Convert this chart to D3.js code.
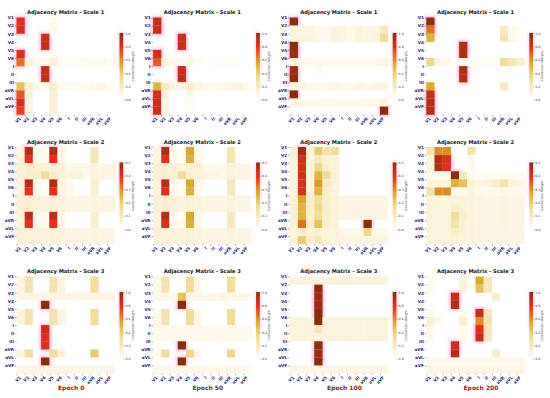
<!DOCTYPE html>
<html>
<head>
<meta charset="utf-8">
<script src="https://cdn.jsdelivr.net/npm/d3@7"></script>
<style>
  body { margin: 0; background: #fff; }
  text { font-family: "DejaVu Sans", sans-serif; }
</style>
</head>
<body>
<div id="chart"></div>
<script>
const leads = ["V1", "V2", "V3", "V4", "V5", "V6", "I", "II", "III", "aVR", "aVL", "aVF"]
const scaleNames = ["Scale 1", "Scale 2", "Scale 3"]
const epochs = ["Epoch 0", "Epoch 50", "Epoch 100", "Epoch 200"]
const vmax = [1.0, 0.5, 1.0]
const cbTicks = [
  [0, 0.2, 0.4, 0.6, 0.8, 1.0],
  [0, 0.1, 0.2, 0.3, 0.4, 0.5],
  [0, 0.2, 0.4, 0.6, 0.8, 1.0]
]

// scale 1
const s1e0 = [
  [0.8,0,0,0,0.05,0,0,0,0,0,0,0],
  [0.82,0,0,0,0.05,0,0,0,0,0,0,0],
  [0,0,0,0.85,0,0,0,0,0,0,0,0],
  [0,0,0,0.85,0,0,0,0,0,0,0,0],
  [0.8,0,0,0,0.04,0,0,0,0,0,0,0],
  [0.65,0.1,0.03,0.03,0.12,0.03,0.02,0.02,0.03,0.05,0.06,0.02],
  [0,0,0,0.85,0,0,0,0,0,0,0,0],
  [0,0,0,0.85,0,0,0,0,0,0,0,0],
  [0.45,0.12,0.04,0.04,0.15,0.04,0.03,0.03,0.04,0.07,0.08,0.03],
  [0.7,0.1,0,0,0.12,0,0,0,0,0,0,0],
  [0.82,0.08,0,0,0.12,0,0,0,0,0,0,0],
  [0.75,0.08,0,0,0.12,0,0,0,0,0,0,0]
]
const s1e50 = [
  [0.85,0,0,0,0,0,0,0,0,0,0,0],
  [0.85,0,0,0,0,0,0,0,0,0,0,0],
  [0,0,0,0.85,0,0,0,0,0,0,0,0],
  [0,0,0,0.85,0,0,0,0,0,0,0,0],
  [0.82,0,0,0,0,0,0,0,0,0,0,0],
  [0.7,0.1,0.04,0.02,0.06,0.02,0,0.02,0.02,0.02,0.02,0],
  [0,0,0,0.85,0,0,0,0,0,0,0,0],
  [0,0,0,0.85,0,0,0,0,0,0,0,0],
  [0.5,0.18,0.08,0.08,0.15,0.08,0.06,0.06,0.06,0.08,0.1,0.06],
  [0.82,0.1,0,0,0.04,0,0,0,0,0,0,0],
  [0.85,0.05,0,0,0.02,0,0,0,0,0,0,0],
  [0.85,0.05,0,0,0.02,0,0,0,0,0,0,0]
]
const s1e100 = [
  [1.0,0,0,0,0,0,0,0,0,0,0,0],
  [0.1,0.08,0.08,0.06,0.05,0.1,0.08,0.05,0.1,0.08,0.08,0.2],
  [0.08,0.1,0.1,0.06,0.05,0.1,0.08,0.05,0.1,0.08,0.1,0.3],
  [1.0,0,0,0,0,0,0,0,0,0,0,0],
  [0.95,0,0,0,0,0,0,0,0,0,0,0],
  [0.08,0.06,0.06,0.05,0.05,0.06,0.05,0.05,0.06,0.05,0.06,0.08],
  [0.95,0,0,0.04,0,0,0,0,0,0,0,0],
  [1.0,0,0,0,0,0,0,0,0,0,0,0],
  [0.1,0.08,0.06,0.06,0.06,0.08,0.06,0.06,0.08,0.06,0.08,0.1],
  [1.0,0,0,0,0,0,0,0,0,0,0,0],
  [0.08,0.06,0.06,0.06,0.06,0.06,0.06,0.06,0.06,0.06,0.06,0.08],
  [0,0,0,0,0,0,0,0,0,0,0,1.0]
]
const s1e200 = [
  [1.0,0,0,0,0,0,0,0,0,0,0,0],
  [0.65,0,0,0,0,0,0,0,0,0.2,0.06,0],
  [0.5,0,0,0,0,0,0,0,0,0.22,0.06,0.02],
  [0,0,0,0,0.9,0,0,0,0,0,0,0],
  [0,0,0,0,0.9,0,0,0,0,0,0,0],
  [0.35,0.08,0.06,0.02,0.02,0.02,0.02,0.02,0.02,0.3,0.22,0.15],
  [0,0,0,0,0.9,0,0,0,0,0,0,0],
  [0,0,0,0,0.9,0,0,0,0,0,0,0],
  [0.55,0,0,0,0,0,0,0,0,0.2,0,0],
  [0.85,0,0,0,0,0,0,0,0,0,0,0],
  [0.9,0,0,0,0,0,0,0,0,0,0,0],
  [0.9,0,0,0,0,0,0,0,0,0,0,0]
]

// scale 2
const s2e0 = [
  [0.05,0.45,0.025,0.015,0.45,0.04,0,0,0,0.1,0,0],
  [0.05,0.39,0.025,0.015,0.39,0.04,0,0,0,0.11,0,0],
  [0.06,0.075,0.06,0.05,0.06,0.06,0.03,0.03,0.03,0.05,0.04,0.04],
  [0.06,0.075,0.07,0.15,0.075,0.06,0.05,0.05,0.03,0.05,0.04,0.04],
  [0.05,0.45,0.025,0.015,0.45,0.04,0.025,0,0,0.075,0,0],
  [0.05,0.39,0.025,0.015,0.39,0.04,0.025,0,0,0.075,0,0],
  [0.06,0.07,0.06,0.05,0.06,0.05,0.04,0.04,0.04,0.05,0.04,0.04],
  [0.06,0.07,0.06,0.05,0.06,0.05,0.04,0.04,0.04,0.05,0.04,0.04],
  [0.05,0.44,0.025,0.015,0.44,0.04,0,0,0,0.075,0,0],
  [0.05,0.39,0.025,0.015,0.39,0.04,0,0,0,0.075,0,0],
  [0.06,0.06,0.05,0.05,0.06,0.05,0.04,0.04,0.04,0.05,0.04,0.04],
  [0.06,0.06,0.05,0.05,0.06,0.05,0.04,0.04,0.04,0.05,0.04,0.04]
]
const s2e50 = [
  [0.05,0.46,0.025,0.01,0.275,0.03,0,0,0,0.11,0,0],
  [0.05,0.4,0.025,0.01,0.26,0.03,0,0,0,0.11,0,0],
  [0.06,0.075,0.06,0.05,0.06,0.06,0.03,0.03,0.03,0.05,0.04,0.04],
  [0.06,0.075,0.07,0.15,0.07,0.06,0.05,0.04,0.03,0.05,0.04,0.04],
  [0.05,0.45,0.025,0.01,0.275,0.03,0,0,0,0.1,0,0],
  [0.05,0.4,0.025,0.01,0.26,0.03,0,0,0,0.1,0,0],
  [0.06,0.07,0.06,0.05,0.06,0.05,0.04,0.04,0.04,0.05,0.04,0.04],
  [0.06,0.07,0.06,0.05,0.06,0.05,0.04,0.04,0.04,0.05,0.04,0.04],
  [0.05,0.45,0.025,0.01,0.275,0.03,0,0,0,0.1,0,0],
  [0.05,0.4,0.025,0.01,0.26,0.03,0,0,0,0.1,0,0],
  [0.06,0.06,0.05,0.05,0.06,0.05,0.04,0.04,0.04,0.05,0.04,0.04],
  [0.06,0.06,0.05,0.05,0.06,0.05,0.04,0.04,0.04,0.05,0.04,0.04]
]
const s2e100 = [
  [0.06,0.475,0.06,0.2,0.125,0.15,0,0,0,0,0,0],
  [0.05,0.41,0.05,0.1,0.06,0.05,0,0,0,0,0,0],
  [0.05,0.41,0.05,0.175,0.075,0.05,0,0,0,0,0,0],
  [0.05,0.41,0.05,0.25,0.15,0.06,0,0,0,0,0,0],
  [0.05,0.4,0.05,0.29,0.09,0.05,0,0,0,0,0,0],
  [0.05,0.4,0.05,0.25,0.075,0.05,0,0,0,0,0,0],
  [0.06,0.275,0.075,0.15,0.075,0.06,0.04,0.04,0.04,0.04,0.04,0.04],
  [0.06,0.25,0.075,0.175,0.075,0.06,0.04,0.04,0.04,0.04,0.04,0.04],
  [0.06,0.25,0.075,0.15,0.075,0.06,0.04,0.04,0.04,0.04,0.04,0.04],
  [0.06,0.325,0.075,0.225,0.075,0.06,0,0,0,0.5,0,0],
  [0.05,0.075,0.05,0.06,0.05,0.05,0.03,0.03,0.03,0.175,0.03,0.03],
  [0.06,0.2,0.075,0.1,0.06,0.05,0.04,0.04,0.04,0.04,0.04,0.04]
]
const s2e200 = [
  [0.125,0.3,0.3,0,0,0.125,0,0,0,0,0,0],
  [0.05,0.46,0.4,0,0,0.025,0,0,0,0,0,0],
  [0.05,0.45,0.4,0,0,0.025,0,0,0,0,0,0],
  [0.025,0.025,0.025,0.5,0.1,0.025,0.015,0.015,0.015,0.015,0.015,0.015],
  [0.05,0.05,0.05,0.25,0.225,0.05,0.04,0.05,0.075,0.125,0.05,0.04],
  [0.125,0.3,0.3,0.025,0.025,0.05,0.025,0.025,0.025,0.025,0.025,0.025],
  [0.05,0.05,0.05,0.06,0.06,0.05,0.05,0.04,0.04,0.05,0.04,0.04],
  [0.05,0.05,0.05,0.075,0.06,0.05,0.04,0.04,0.04,0.05,0.04,0.04],
  [0.05,0.05,0.05,0.15,0.075,0.05,0.04,0.04,0.04,0.06,0.04,0.04],
  [0.05,0.05,0.05,0.125,0.06,0.05,0.04,0.04,0.04,0.05,0.04,0.04],
  [0.05,0.05,0.05,0.075,0.06,0.05,0.04,0.04,0.04,0.04,0.04,0.04],
  [0.05,0.05,0.05,0.06,0.05,0.05,0.04,0.04,0.04,0.04,0.04,0.04]
]

// scale 3
const s3e0 = [
  [0.08,0.25,0,0,0.25,0.08,0,0,0,0.3,0,0],
  [0.08,0.25,0,0,0.25,0.08,0,0,0,0.3,0,0],
  [0.08,0.08,0.08,0.08,0.08,0.08,0.08,0.08,0.08,0.08,0.08,0.08],
  [0,0,0,1.0,0,0,0,0,0,0,0,0],
  [0.08,0.25,0,0,0.25,0.08,0,0,0,0.3,0,0],
  [0.08,0.25,0,0,0.25,0.08,0,0,0,0.3,0,0],
  [0,0,0,0.85,0,0,0,0,0,0,0,0],
  [0,0,0,0.8,0,0,0,0,0,0,0,0],
  [0,0,0,0.8,0,0,0,0,0,0,0,0],
  [0.08,0.3,0,0,0.3,0.1,0,0,0,0.4,0,0],
  [0,0,0,1.0,0,0,0,0,0,0,0,0],
  [0.08,0.08,0.08,0.08,0.08,0.08,0.08,0.08,0.08,0.08,0.08,0.08]
]
const s3e50 = [
  [0.06,0.25,0,0,0.3,0.06,0,0,0,0.3,0,0],
  [0.06,0.25,0,0,0.3,0.06,0,0,0,0.3,0,0],
  [0.06,0.06,0.06,0.45,0.06,0.06,0.06,0.06,0.08,0.06,0.06,0.06],
  [0,0,0,1.0,0,0,0,0,0,0,0,0],
  [0.06,0.25,0,0,0.3,0.06,0,0,0,0.3,0,0],
  [0.06,0.25,0,0,0.3,0.06,0,0,0,0.3,0,0],
  [0.05,0.05,0.05,0.05,0.05,0.05,0.05,0.05,0.05,0.05,0.05,0.05],
  [0.05,0.05,0.05,0.05,0.05,0.05,0.05,0.05,0.05,0.05,0.05,0.05],
  [0,0,0,1.0,0,0,0,0,0,0,0,0],
  [0.06,0.3,0,0,0.35,0.06,0,0,0,0.35,0,0],
  [0,0,0,1.0,0,0,0,0,0,0,0,0],
  [0.06,0.06,0.06,0.06,0.06,0.06,0.06,0.06,0.06,0.06,0.06,0.06]
]
const s3e100 = [
  [0.1,0.1,0.1,0.1,0.1,0.1,0.1,0.1,0.1,0.1,0.1,0.1],
  [0,0,0,1.0,0,0,0,0,0,0,0,0],
  [0,0,0,0.95,0,0,0,0,0,0,0,0],
  [0,0,0,0.95,0,0,0,0,0,0,0,0],
  [0,0,0,1.0,0,0,0,0,0,0,0,0],
  [0.1,0.1,0.1,1.0,0.1,0.1,0.1,0.1,0.1,0.1,0.1,0.1],
  [0.1,0.1,0.1,0.2,0.1,0.1,0.1,0.1,0.1,0.1,0.1,0.1],
  [0.1,0.1,0.1,0.1,0.1,0.1,0.1,0.1,0.1,0.1,0.1,0.1],
  [0,0,0,1.0,0,0,0,0,0,0,0,0],
  [0,0,0,0.95,0,0,0,0,0,0,0,0],
  [0,0,0,1.0,0,0,0,0,0,0,0,0],
  [0.08,0.08,0.08,0.08,0.08,0.08,0.08,0.08,0.08,0.08,0.08,0.08]
]
const s3e200 = [
  [0.05,0,0,0,0.1,0,0.55,0.2,0,0,0,0],
  [0.05,0,0,0,0.1,0,0.45,0.2,0,0,0,0],
  [0,0,0,0.85,0,0,0,0,0.15,0,0,0],
  [0,0,0,0.9,0,0,0,0,0,0,0,0],
  [0.05,0,0,0,0.05,0,0.85,0.2,0,0,0,0],
  [0.12,0.05,0,0,0.15,0,0.6,0.25,0,0,0,0],
  [0.05,0,0,0,0.05,0,0.8,0.2,0,0,0,0],
  [0.05,0,0,0,0.05,0,0.85,0.2,0,0,0,0],
  [0,0,0,0.85,0,0,0,0,0,0,0,0],
  [0,0,0,0.9,0,0,0,0,0.15,0,0,0],
  [0.06,0.06,0.06,0.06,0.06,0.06,0.06,0.06,0.06,0.06,0.06,0.06],
  [0.08,0.08,0.08,0.08,0.08,0.08,0.08,0.08,0.08,0.08,0.08,0.08]
]

const matrices = [
  [s1e0, s1e50, s1e100, s1e200],
  [s2e0, s2e50, s2e100, s2e200],
  [s3e0, s3e50, s3e100, s3e200]
]

const width = 550
const height = 398
const cw = 8.2, ch = 8.1
const labelColor = "#1b1b72"

// normalised colour ramp: cream -> gold -> red -> brown
const cmap = d3.scaleLinear()
  .domain([0, 0.15, 0.35, 0.55, 0.78, 1])
  .range(["#fffefa", "#fbeecb", "#f0d78a", "#d9aa25", "#e5301c", "#8a2e0a"])
  .clamp(true)

const svg = d3.select("#chart")
  .append("svg")
    .attr("width", width)
    .attr("height", height)

svg.append("rect").attr("width", width).attr("height", height).attr("fill", "#fff")

const defs = svg.append("defs")
defs.append("filter").attr("id", "halo")
    .attr("x", "-50%").attr("y", "-50%").attr("width", "200%").attr("height", "200%")
  .append("feGaussianBlur").attr("stdDeviation", 1.5)

const grad = defs.append("linearGradient").attr("id", "cbgrad")
    .attr("x1", 0).attr("y1", 1).attr("x2", 0).attr("y2", 0)
grad.selectAll("stop")
  .data(d3.range(0, 1.001, 0.05))
  .enter().append("stop")
    .attr("offset", d => d)
    .attr("stop-color", d => cmap(d))

matrices.forEach((row, m) => {
  row.forEach((mat, k) => {
    const L = 16.5 + 136.6 * k
    const T = 17.5 + 129.5 * m
    const vm = vmax[m]
    const x = d3.scaleLinear().domain([0, 12]).range([L, L + 12 * cw])
    const y = d3.scaleLinear().domain([0, 12]).range([T, T + 12 * ch])
    const g = svg.append("g")

    const cells = []
    mat.forEach((r, i) => r.forEach((v, j) => cells.push({ i, j, v })))

    // soft pink glow around strong cells
    g.append("g").attr("filter", "url(#halo)")
      .selectAll("rect")
      .data(cells.filter(d => d.v / vm > 0.6))
      .enter().append("rect")
        .attr("x", d => x(d.j) - 2)
        .attr("y", d => y(d.i) - 2)
        .attr("width", cw + 4)
        .attr("height", ch + 4)
        .attr("fill", "#ffa6de")
        .attr("opacity", 0.6)

    g.append("g")
      .selectAll("rect")
      .data(cells.filter(d => d.v > 0))
      .enter().append("rect")
        .attr("x", d => x(d.j))
        .attr("y", d => y(d.i))
        .attr("width", cw + 0.05)
        .attr("height", ch + 0.05)
        .attr("fill", d => cmap(d.v / vm))

    // axes: ticks sit on the cell edges
    const yAxis = d3.axisLeft(y).tickValues(d3.range(12)).tickFormat(i => leads[i]).tickSize(1.5).tickPadding(1)
    const ya = g.append("g").attr("transform", `translate(${L},0)`).call(yAxis)
    ya.select(".domain").remove()
    ya.selectAll("line").attr("stroke", "#333").attr("stroke-width", 0.4)
    ya.selectAll("text")
      .attr("font-size", 4.2).attr("font-weight", "bold").attr("fill", labelColor)

    const xAxis = d3.axisBottom(x).tickValues(d3.range(12)).tickFormat(i => leads[i]).tickSize(1.5).tickPadding(1)
    const xa = g.append("g").attr("transform", `translate(0,${T + 12 * ch})`).call(xAxis)
    xa.select(".domain").remove()
    xa.selectAll("line").attr("stroke", "#333").attr("stroke-width", 0.4)
    xa.selectAll("text")
      .attr("font-size", 4.2).attr("font-weight", "bold").attr("fill", labelColor)
      .attr("text-anchor", "end")
      .attr("dy", "0.5em")
      .attr("transform", "translate(1,1) rotate(-45)")

    // title
    g.append("text")
      .attr("x", L + 6 * cw)
      .attr("y", T - 3.5)
      .attr("text-anchor", "middle")
      .attr("font-size", 5.2)
      .attr("font-weight", "bold")
      .attr("fill", "#111")
      .text("Adjacency Matrix - " + scaleNames[m])

    // colorbar, with the same faint pink glow along its dark end
    const cbx = L + 103, cbTop = T + 15.5, cbBot = T + 82.3
    g.append("rect")
      .attr("x", cbx - 1.5).attr("y", cbTop - 1.5)
      .attr("width", 6.7).attr("height", (cbBot - cbTop) * 0.55)
      .attr("fill", "#ffb3e2").attr("opacity", 0.45)
      .attr("filter", "url(#halo)")
    g.append("rect")
      .attr("x", cbx).attr("y", cbTop)
      .attr("width", 3.7).attr("height", cbBot - cbTop)
      .attr("fill", "url(#cbgrad)")
    const cy = d3.scaleLinear().domain([0, vm]).range([cbBot, cbTop])
    const cAxis = d3.axisRight(cy).tickValues(cbTicks[m]).tickFormat(d3.format(".1f")).tickSize(1.2).tickPadding(1)
    const ca = g.append("g").attr("transform", `translate(${cbx + 3.7},0)`).call(cAxis)
    ca.select(".domain").remove()
    ca.selectAll("line").attr("stroke", "#333").attr("stroke-width", 0.3)
    ca.selectAll("text").attr("font-size", 3.2).attr("fill", "#333")
    g.append("text")
      .attr("transform", `translate(${cbx + 14},${(cbTop + cbBot) / 2}) rotate(-90)`)
      .attr("text-anchor", "middle")
      .attr("font-size", 3.2)
      .attr("fill", "#333")
      .text("Connection Weight")
  })
})

epochs.forEach((e, k) => {
  svg.append("text")
    .attr("x", 16.5 + 136.6 * k + 6 * cw + 5.5)
    .attr("y", 390)
    .attr("text-anchor", "middle")
    .attr("font-size", 6)
    .attr("font-weight", "bold")
    .attr("fill", "#8b1e1e")
    .text(e)
})
</script>
</body>
</html>
